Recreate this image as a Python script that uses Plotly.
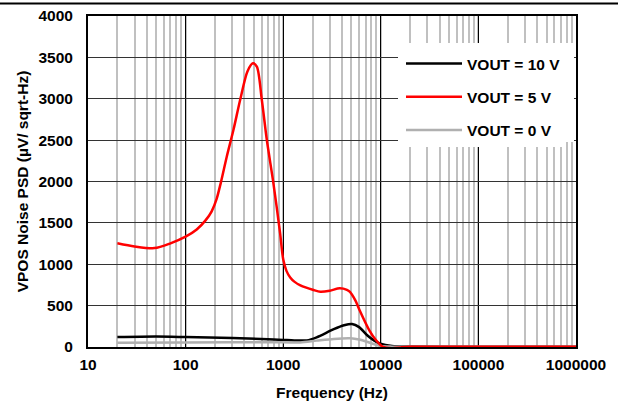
import plotly.graph_objects as go

# Frequency (Hz) and noise PSD (uV/sqrt-Hz)
freq_5v = [20, 30, 48, 69, 100, 130, 160, 185, 208, 230, 264, 309, 362, 430, 489, 537, 604,
           680, 794, 930, 1000, 1080, 1180, 1300, 1500, 2046, 2400, 3000, 3800, 4500, 4800,
           5500, 6050, 7600, 8900, 10400, 13000, 16000, 20000, 50000, 100000, 1000000]
vout_5v = [1253, 1215, 1195, 1250, 1333, 1420, 1530, 1640, 1790, 1990, 2300, 2622, 2985,
           3330, 3428, 3388, 2985, 2501, 1978, 1374, 1060, 920, 840, 790, 745, 689, 668, 680,
           709, 690, 668, 560, 447, 205, 85, 5, -15, -5, 2, 2, 2, 2]

freq_10v = [20, 50, 100, 300, 700, 1000, 1300, 1750, 2200, 3300, 4200, 5070, 6000, 7200,
            8500, 9900, 13000, 20000, 100000, 1000000]
vout_10v = [120, 126, 120, 108, 94, 86, 80, 80, 117, 215, 262, 278, 240, 145,
            80, 40, 12, 5, 4, 4]

freq_0v = [20, 100, 1000, 1500, 2200, 3300, 4900, 6000, 7200, 8500, 9900, 13000, 20000,
           100000, 1000000]
vout_0v = [52, 55, 57, 55, 77, 98, 105, 90, 64, 35, 12, 4, 2, 2, 2]

x_ticks = [10, 100, 1000, 10000, 100000, 1000000]
x_tick_labels = ["10", "100", "1000", "10000", "100000", "1000000"]
y_ticks = [0, 500, 1000, 1500, 2000, 2500, 3000, 3500, 4000]

FONT = "Liberation Sans, Arial, sans-serif"
FS = 15.5

fig = go.Figure()
fig.add_trace(go.Scatter(x=freq_10v, y=vout_10v, mode="lines", name="VOUT = 10 V",
                         line=dict(color="#000000", width=2.5, shape="spline", smoothing=0.8),
                         legendrank=1, legendgroup="a"))
fig.add_trace(go.Scatter(x=freq_0v, y=vout_0v, mode="lines", name="VOUT = 0 V",
                         line=dict(color="#b0b0b0", width=2.5, shape="spline", smoothing=0.8),
                         legendrank=3, legendgroup="c"))
fig.add_trace(go.Scatter(x=freq_5v, y=vout_5v, mode="lines", name="VOUT = 5 V",
                         line=dict(color="#ff0000", width=2.5, shape="spline", smoothing=0.8),
                         legendrank=2, legendgroup="b"))

L, R, T, B = 88, 42, 16, 58
W, H = 618, 405
pw, ph = W - L - R, H - T - B


def px_x(x):
    return (x - L) / pw


def px_y(y):
    return (H - B - y) / ph


fig.update_layout(
    width=W, height=H,
    margin=dict(l=L, r=R, t=T, b=B, autoexpand=False),
    paper_bgcolor="white", plot_bgcolor="white",
    font=dict(family=FONT, size=FS, color="black", weight="bold"),
    showlegend=True,
    legend=dict(x=px_x(401), xanchor="left", y=px_y(47), yanchor="top",
                bgcolor="white", borderwidth=0, tracegroupgap=10,
                font=dict(family=FONT, size=FS, weight="bold"),
                itemwidth=56),
    shapes=[
        dict(type="rect", xref="paper", yref="paper", x0=px_x(398), x1=px_x(574),
             y0=px_y(142), y1=px_y(43), fillcolor="white", line=dict(width=0),
             layer="above"),
        dict(type="line", xref="paper", yref="paper", x0=px_x(0), x1=px_x(W),
             y0=px_y(3.5), y1=px_y(3.5), line=dict(color="black", width=2),
             layer="above"),
    ],
)

fig.update_xaxes(
    type="log", range=[1, 6], automargin=False,
    tickvals=x_ticks, ticktext=x_tick_labels,
    showgrid=True, gridcolor="#000000", gridwidth=1,
    minor=dict(dtick="D1", showgrid=True, gridcolor="#c0c0c0", gridwidth=1.8, ticks=""),
    showline=True, linecolor="black", linewidth=2, mirror=True,
    ticks="", ticklabelstandoff=2,
    tickfont=dict(family=FONT, size=FS, weight="bold"),
    title=dict(text="Frequency (Hz)", font=dict(family=FONT, size=FS, weight="bold"), standoff=16),
    zeroline=False,
)
fig.update_yaxes(
    range=[0, 4000], tickvals=y_ticks, automargin=False,
    showgrid=True, gridcolor="#333333", gridwidth=1,
    showline=True, linecolor="black", linewidth=2, mirror=True,
    ticks="", ticklabelstandoff=10,
    tickfont=dict(family=FONT, size=FS, weight="bold"),
    title=dict(text="VPOS Noise PSD (µV/ sqrt-Hz)", font=dict(family=FONT, size=FS, weight="bold"),
               standoff=6),
    zeroline=False,
)

fig.write_html("out.html", config={"displayModeBar": False},
               post_script="document.body.style.margin='0';")
